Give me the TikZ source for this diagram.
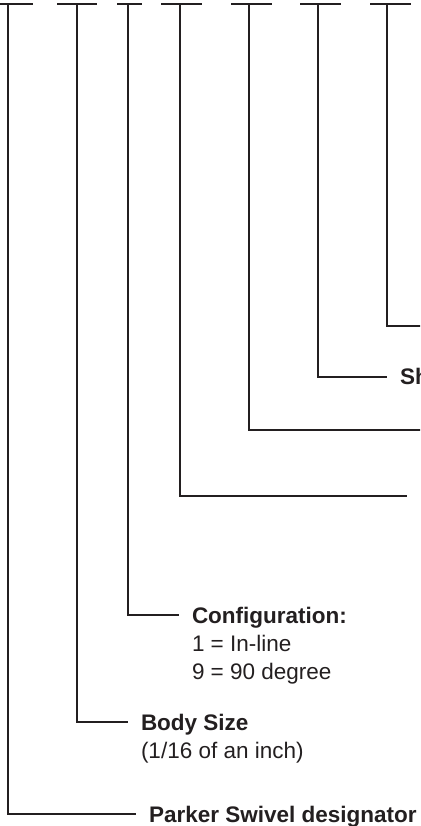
\documentclass[tikz,border=0pt]{standalone}
\usepackage{fontspec}
\setmainfont{Liberation Sans}
\usetikzlibrary{positioning}
\definecolor{ink}{RGB}{35,31,32}

\begin{document}
\begin{tikzpicture}[x=0.5pt,y=-0.5pt,line width=1pt]
        \tikzstyle{every node}=[text=ink,inner xsep=6pt,inner ysep=0pt,text height=10.5pt,text depth=2.5pt,font=\fontsize{11.25}{13}\selectfont]
        \tikzstyle{head}=[anchor=west,font=\fontsize{11.25}{13}\selectfont\bfseries]
        \tikzstyle{note}=[anchor=north west]
        \tikzstyle{lead}=[draw=ink]
        \clip (0,0) rectangle (420,826);
        % slots along the top
        \foreach \n/\a/\b/\v in {1/-8/33/7.5, 2/57/97/76.5, 3/117/142/128, 4/161/202/180, 5/231/272/249, 6/300/341/318, 7/370/411/387}{
            \draw[lead] (\a,4.3) -- (\b,4.3);
            \coordinate (slot\n) at (\v,4.3);
        }
        % labels
        \node[head] (parker) at (136,814) {Parker Swivel designator};
        \node[head] (size) at (128,722) {Body Size};
        \node[note] (sizenote) at (size.south west) {(1/16 of an inch)};
        \node[head] (config) at (179,615) {Configuration:};
        \node[note] (confignote1) at (config.south west) {1 = In-line};
        \node[note] (confignote2) at (confignote1.south west) {9 = 90 degree};
        \coordinate (end4) at (407,495.5);
        \coordinate (end5) at (430,430);
        \node[head] (sh) at (387,376.5) {Sh};
        \coordinate (end7) at (430,326);
        % leaders
        \draw[lead] (slot1) |- (parker.west);
        \draw[lead] (slot2) |- (size.west);
        \draw[lead] (slot3) |- (config.west);
        \draw[lead] (slot4) |- (end4);
        \draw[lead] (slot5) |- (end5);
        \draw[lead] (slot6) |- (sh.west);
        \draw[lead] (slot7) |- (end7);
    \end{tikzpicture}
\end{document}
